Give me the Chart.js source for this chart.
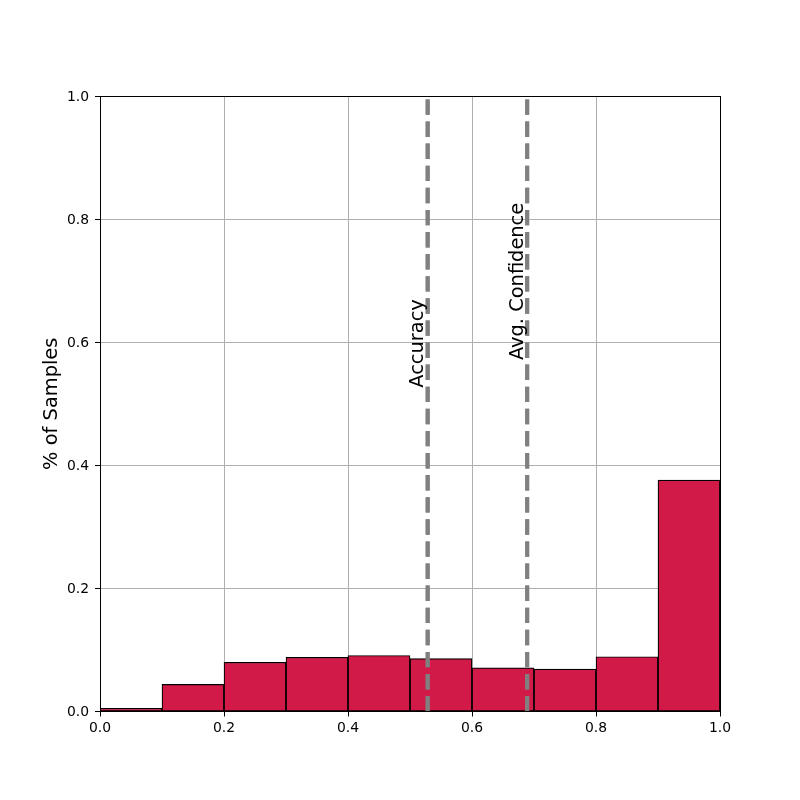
<!DOCTYPE html>
<html>
<head>
<meta charset="utf-8">
<script src="https://cdn.jsdelivr.net/npm/chart.js@4.4.1/dist/chart.umd.min.js"></script>
<style>
  html, body { margin: 0; padding: 0; background: #ffffff; }
  #wrap { width: 800px; height: 800px; }
</style>
</head>
<body>
<div id="wrap"><canvas id="c" width="800" height="800"></canvas></div>
<script>
// ---- data ----
const binCenters = [0.05, 0.15, 0.25, 0.35, 0.45, 0.55, 0.65, 0.75, 0.85, 0.95];
const sampleFraction = [0.005, 0.044, 0.080, 0.088, 0.091, 0.086, 0.071, 0.069, 0.089, 0.376];
const accuracy = 0.5285;
const avgConfidence = 0.689;
const lineLabels = ['Accuracy', 'Avg. Confidence'];
const xTickValues = [0.0, 0.2, 0.4, 0.6, 0.8, 1.0];
const yTickValues = [0.0, 0.2, 0.4, 0.6, 0.8, 1.0];
const yAxisTitle = '% of Samples';

Chart.defaults.font.family = '"DejaVu Sans", sans-serif';
Chart.defaults.color = '#000000';

const FRAME = { left: 100, top: 96, right: 720, bottom: 711.5 };

const boxPlugin = {
  id: 'frameBox',
  afterDraw(chart) {
    const { ctx, chartArea: a } = chart;
    const l = Math.floor(a.left), t = Math.floor(a.top), r = Math.floor(a.right), b = Math.floor(a.bottom);
    ctx.save();
    ctx.strokeStyle = '#000000';
    ctx.lineWidth = 1;
    ctx.strokeRect(l + 0.5, t + 0.5, r - l, b - t);
    ctx.restore();
  }
};

const lineOnTopPlugin = {
  id: 'linesOnTop',
  afterDraw(chart) {
    chart.data.datasets.forEach((ds, i) => {
      if (ds.type === 'line') {
        const meta = chart.getDatasetMeta(i);
        const ctx = chart.ctx;
        const a = chart.chartArea;
        ctx.save();
        ctx.beginPath();
        ctx.rect(a.left, a.top, a.right - a.left, a.bottom - a.top);
        ctx.clip();
        meta.controller.draw();
        ctx.restore();
      }
    });
  }
};

const labelPlugin = {
  id: 'vlineLabels',
  afterDraw(chart, args, opts) {
    const { ctx, scales: { x, y } } = chart;
    ctx.save();
    ctx.font = '19.4px "DejaVu Sans"';
    ctx.fillStyle = '#000000';
    (opts.items || []).forEach(it => {
      const px = x.getPixelForValue(it.value);
      const py = y.getPixelForValue(it.textStart);
      ctx.save();
      ctx.translate(px, py);
      ctx.rotate(-Math.PI / 2);
      ctx.textAlign = 'left';
      ctx.textBaseline = 'bottom';
      ctx.fillText(it.text, 0, 0);
      ctx.restore();
    });
    ctx.restore();
  }
};

const fmt = v => Number(v).toFixed(1);

new Chart(document.getElementById('c'), {
  data: {
    datasets: [
      {
        type: 'bar',
        data: binCenters.map((x, i) => ({ x: x, y: sampleFraction[i] })),
        backgroundColor: '#d11a47',
        borderColor: '#000000',
        borderWidth: 1.2,
        borderSkipped: false,
        barPercentage: 1.0,
        categoryPercentage: 1.0,
        order: 2
      },
      {
        type: 'line',
        data: [{ x: accuracy, y: 0 }, { x: accuracy, y: 1 }],
        borderColor: '#808080',
        borderWidth: 4,
        borderDash: [15.4, 6.7],
        pointRadius: 0,
        fill: false,
        order: 1
      },
      {
        type: 'line',
        data: [{ x: avgConfidence, y: 0 }, { x: avgConfidence, y: 1 }],
        borderColor: '#808080',
        borderWidth: 4,
        borderDash: [15.4, 6.7],
        pointRadius: 0,
        fill: false,
        order: 1
      }
    ]
  },
  options: {
    responsive: false,
    animation: false,
    events: [],
    layout: { padding: { left: 0, top: FRAME.top, right: 800 - FRAME.right, bottom: 0 } },
    plugins: {
      legend: { display: false },
      tooltip: { enabled: false },
      vlineLabels: {
        items: [
          { text: lineLabels[0], value: accuracy, textStart: 0.526 },
          { text: lineLabels[1], value: avgConfidence, textStart: 0.571 }
        ]
      }
    },
    scales: {
      x: {
        type: 'linear',
        position: 'bottom',
        min: 0, max: 1,
        offset: false,
        z: 1,
        afterBuildTicks: s => { s.ticks = xTickValues.map(v => ({ value: v })); },
        afterFit: s => { s.height = 800 - FRAME.bottom; },
        grid: { color: '#b0b0b0', lineWidth: 1, tickColor: '#000000', tickLength: 5, tickWidth: 1, offset: false, drawTicks: true },
        border: { display: false },
        ticks: { callback: v => fmt(v), font: { size: 13.9 }, padding: 4, maxRotation: 0, autoSkip: false, color: '#000000' }
      },
      y: {
        type: 'linear',
        position: 'left',
        min: 0, max: 1,
        z: 1,
        afterBuildTicks: s => { s.ticks = yTickValues.map(v => ({ value: v })); },
        afterFit: s => { s.width = FRAME.left; },
        grid: { color: '#b0b0b0', lineWidth: 1, tickColor: '#000000', tickLength: 5, tickWidth: 1, drawTicks: true },
        border: { display: false },
        ticks: { callback: v => fmt(v), font: { size: 13.9 }, padding: 6, labelOffset: 1, autoSkip: false, color: '#000000' },
        title: { display: true, text: yAxisTitle, font: { size: 19.4 }, padding: { top: 40, bottom: 0 }, color: '#000000' }
      }
    }
  },
  plugins: [lineOnTopPlugin, labelPlugin, boxPlugin]
});
</script>
</body>
</html>
